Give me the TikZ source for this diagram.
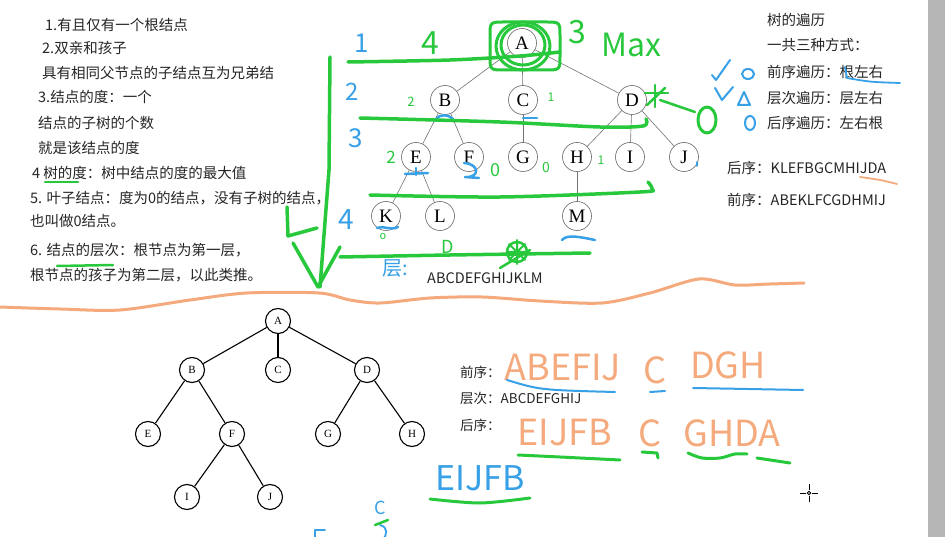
\documentclass[tikz,border=0pt]{standalone}
\usepackage{fontspec}
\setmainfont{Noto Sans CJK SC}
\newfontfamily\serifletters{Liberation Serif}
\usetikzlibrary{arrows.meta}
\definecolor{hgreen}{RGB}{40,200,60}
\definecolor{hblue}{RGB}{55,160,230}
\definecolor{horange}{RGB}{245,170,125}
\definecolor{bargray}{RGB}{182,182,182}
\begin{document}
\begin{tikzpicture}[x=1pt,y=-1pt,
 txt/.style={anchor=west, inner sep=0pt, font=\fontsize{14.5}{16}\selectfont, text=black!85},
 stxt/.style={anchor=west, inner sep=0pt, font=\fontsize{13.5}{15}\selectfont, text=black!85},
 tn/.style={circle, draw=black!60, line width=0.6pt, minimum size=29pt, inner sep=0pt, font=\serifletters\fontsize{19}{20}\selectfont, fill=white},
 bn/.style={circle, draw=black, line width=1.1pt, minimum size=25pt, inner sep=0pt, font=\serifletters\fontsize{11}{12}\selectfont, fill=white},
 te/.style={draw=black!55, line width=0.6pt},
 be/.style={draw=black, line width=1.1pt},
 gstroke/.style={draw=hgreen, line width=3.5pt, line cap=round, line join=round},
 bstroke/.style={draw=hblue, line width=2.5pt, line cap=round, line join=round},
 ostroke/.style={draw=horange, line width=2.5pt, line cap=round, line join=round},
 hand/.style={inner sep=0pt, anchor=center},
]
\useasboundingbox (0,0) rectangle (945,537);
\fill[white] (0,0) rectangle (945,537);
\fill[bargray] (928,0) rectangle (945,537);

% ---------- left text ----------
\node[txt] (t1) at (45,25) {1.有且仅有一个根结点};
\node[txt] (t2) at (42,48) {2.双亲和孩子};
\node[txt] (t3) at (42,73) {具有相同父节点的子结点互为兄弟结};
\node[txt] (t4) at (38,97) {3.结点的度：一个};
\node[txt] (t5) at (38,123) {结点的子树的个数};
\node[txt] (t6) at (38,148) {就是该结点的度};
\node[txt] (t7) at (32,173) {4 树的度：树中结点的度的最大值};
\node[txt] (t8) at (30,198) {5. 叶子结点：度为0的结点，没有子树的结点，};
\node[txt] (t9) at (30,221) {也叫做0结点。};
\node[txt] (t10) at (30,250) {6. 结点的层次：根节点为第一层，};
\node[txt] (t11) at (30,275) {根节点的孩子为第二层，以此类推。};

% ---------- right text ----------
\node[txt] (r1) at (767,20) {树的遍历};
\node[txt] (r2) at (767,45) {一共三种方式：};
\node[txt] (r3) at (767,72) {前序遍历：根左右};
\node[txt] (r4) at (767,98) {层次遍历：层左右};
\node[txt] (r5) at (767,123) {后序遍历：左右根};
\node[txt] (r6) at (727,168) {后序：KLEFBGCMHIJDA};
\node[txt] (r7) at (727,200) {前序：ABEKLFCGDHMIJ};
\node[txt] (lv) at (427,278) {ABCDEFGHIJKLM};

% ---------- top tree ----------
\node[tn] (A) at (522,43) {A};
\node[tn] (B) at (445,100) {B};
\node[tn] (C) at (523,100) {C};
\node[tn] (D) at (632,100) {D};
\node[tn] (E) at (416,157) {E};
\node[tn] (F) at (469,157) {F};
\node[tn] (G) at (523,157) {G};
\node[tn] (H) at (577,157) {H};
\node[tn] (I) at (630,157) {I};
\node[tn] (J) at (684,157) {J};
\node[tn] (K) at (386,216) {K};
\node[tn] (L) at (440,216) {L};
\node[tn] (M) at (577,216) {M};
\foreach \a/\b in {A/B,A/C,A/D,B/E,B/F,C/G,D/H,D/I,D/J,E/K,E/L,H/M}
  \path[te] (\a) -- (\b);

% ---------- bottom tree ----------
\node[bn] (bA) at (278,321) {A};
\node[bn] (bB) at (192,370) {B};
\node[bn] (bC) at (278,370) {C};
\node[bn] (bD) at (367,370) {D};
\node[bn] (bE) at (148,434) {E};
\node[bn] (bF) at (232,434) {F};
\node[bn] (bG) at (328,434) {G};
\node[bn] (bH) at (412,434) {H};
\node[bn] (bI) at (187,497) {I};
\node[bn] (bJ) at (270,497) {J};
\foreach \a/\b in {bA/bB,bA/bC,bA/bD,bB/bE,bB/bF,bD/bG,bD/bH,bF/bI,bF/bJ}
  \path[be] (\a) -- (\b);

% ---------- bottom text ----------
\node[stxt] (p1) at (460,372) {前序：};
\node[stxt] (p2) at (460,398) {层次：ABCDEFGHIJ};
\node[stxt] (p3) at (460,425) {后序：};

% ---------- orange handwriting ----------
\draw[ostroke, line width=3pt] plot[smooth] coordinates {(0,307) (60,309) (120,310) (190,300) (247,293) (319,293) (350,300) (380,303) (430,298) (482,297) (540,301) (602,303) (650,293) (699,279) (735,285) (770,284) (804,283)};
\draw[ostroke, line width=1.8pt] plot[smooth] coordinates {(860,177) (880,180) (897,184)};
\node[hand, text=horange, font=\fontsize{36}{36}\selectfont] (o1) at (563,368) {ABEFIJ};
\node[hand, text=horange, font=\fontsize{36}{36}\selectfont] (o2) at (655,370) {C};
\node[hand, text=horange, font=\fontsize{36}{36}\selectfont] (o3) at (728,365) {DGH};
\node[hand, text=horange, font=\fontsize{36}{36}\selectfont] (o4) at (565,433) {EIJFB};
\node[hand, text=horange, font=\fontsize{36}{36}\selectfont] (o5) at (650,433) {C};
\node[hand, text=horange, font=\fontsize{36}{36}\selectfont] (o6) at (732,433) {GHDA};

% ---------- blue handwriting ----------
\node[hand, text=hblue, font=\fontsize{26}{26}\selectfont] (n1) at (362,43) {1};
\node[hand, text=hblue, font=\fontsize{24}{24}\selectfont] (n2) at (352,92) {2};
\node[hand, text=hblue, font=\fontsize{26}{26}\selectfont] (n3) at (356,138) {3};
\node[hand, text=hblue, font=\fontsize{28}{28}\selectfont] (n4) at (346,220) {4};
\node[hand, text=hblue, font=\fontsize{20}{20}\selectfont] (n5) at (395,268) {层:};
\node[hand, text=hblue, font=\fontsize{34}{34}\selectfont] (n6) at (480,478) {EIJFB};
\node[hand, text=hblue, font=\fontsize{18}{18}\selectfont] (n7) at (380,508) {C};
\draw[bstroke] (436,119) .. controls (440,114) and (448,114) .. (453,119);
\draw[bstroke] (523,118) -- (537,118);
\draw[bstroke] (405,174) -- (428,173);
\draw[bstroke] (416,168) -- (416,175);
\draw[bstroke] (464,163) .. controls (480,164) and (480,178) .. (465,177) -- (479,178);
\draw[bstroke] (377,228) .. controls (383,225) and (390,231) .. (398,227);
\draw[bstroke] (562,240) .. controls (567,234) and (580,237) .. (595,240);
\draw[bstroke, line width=1.5pt] (697,162) -- (697,166);
\draw[bstroke, line width=2pt] (712,75) -- (716,80) -- (730,60);
\draw[bstroke, line width=2pt] (715,88) -- (722,100) -- (733,87);
\draw[bstroke, line width=2pt] (748,74) ellipse (6 and 5);
\draw[bstroke, line width=2pt] (738,105) -- (744,92) -- (750,105) -- cycle;
\draw[bstroke, line width=2pt] (750,123) ellipse (5 and 7);
\draw[bstroke, line width=1.8pt] (845,67) -- (847,78) .. controls (870,82) .. (900,83);
\draw[bstroke, line width=2pt] (507,380) .. controls (540,390) .. (615,392);
\draw[bstroke, line width=2pt] (650,392) -- (665,391);
\draw[bstroke, line width=2pt] (693,388) -- (803,390);
\draw[bstroke, line width=1.8pt] (380,525) .. controls (388,527) and (388,535) .. (382,540);
\draw[bstroke, line width=1.8pt] (315,540) -- (315,530) -- (325,530);

% ---------- green handwriting ----------
\draw[gstroke] plot[smooth] coordinates {(348,62) (450,60) (520,56) (560,52)};
\draw[gstroke] plot[smooth] coordinates {(360,118) (500,122) (600,127) (643,126) (646,119)};
\draw[gstroke] plot[smooth] coordinates {(370,195) (500,197) (640,192) (652,189) (648,182)};
\draw[gstroke] plot[smooth] coordinates {(340,257) (450,255) (590,253)};
\draw[gstroke] (330,57) -- (329,170) -- (320,287);
\draw[gstroke] (293,243) -- (318,287) -- (340,247);
\draw[gstroke] (287,207) -- (288,236) -- (317,228);
\draw[gstroke, line width=3pt] (490,36) .. controls (490,22) .. (505,22) -- (545,22) .. controls (560,22) .. (560,36) -- (560,56) .. controls (560,70) .. (545,70) -- (505,70) .. controls (490,70) .. (490,56) -- cycle;
\draw[gstroke, line width=3pt] (523,45) ellipse (22 and 20);
\draw[gstroke, line width=3pt] (523,46) ellipse (27 and 24);
\node[hand, text=hgreen, font=\fontsize{32}{32}\selectfont] (g1) at (430,43) {4};
\node[hand, text=hgreen, font=\fontsize{32}{32}\selectfont] (g2) at (577,32) {3};
\node[hand, text=hgreen, font=\fontsize{32}{32}\selectfont] (g3) at (631,45) {Max};
\node[hand, text=hgreen, font=\fontsize{13}{13}\selectfont] (g4) at (411,102) {2};
\node[hand, text=hgreen, font=\fontsize{12}{12}\selectfont] (g5) at (551,97) {1};
\node[hand, text=hgreen, font=\fontsize{17}{17}\selectfont] (g6) at (391,157) {2};
\node[hand, text=hgreen, font=\fontsize{18}{18}\selectfont] (g7) at (495,170) {0};
\node[hand, text=hgreen, font=\fontsize{14}{14}\selectfont] (g8) at (546,168) {0};
\node[hand, text=hgreen, font=\fontsize{12}{12}\selectfont] (g9) at (601,160) {1};
\node[hand, text=hgreen, font=\fontsize{18}{18}\selectfont] (g10) at (448,247) {D};
\node[hand, text=hgreen, font=\fontsize{11}{11}\selectfont] (g11) at (383,237) {o};
\draw[gstroke, line width=2.5pt] (645,93) -- (668,93);
\draw[gstroke, line width=2.5pt] (655,85) -- (655,107);
\draw[gstroke, line width=2.5pt] (647,105) -- (665,88);
\draw[gstroke, line width=2.5pt] (660,100) -- (695,112);
\draw[gstroke, line width=3pt] (707,120) ellipse (9 and 13);
\draw[gstroke, line width=2.5pt] (517,252) circle (10);
\draw[gstroke, line width=2pt] (517,240) -- (517,264) (507,252) -- (527,252) (509,244) -- (525,260) (509,260) -- (525,244);
\draw[gstroke, line width=2.5pt] (500,268) -- (530,250);
\draw[gstroke, line width=2.5pt] (45,182) -- (78,182);
\draw[gstroke, line width=2.5pt] (57,266) -- (113,265);
\draw[gstroke, line width=3pt] plot[smooth] coordinates {(518,455) (560,457) (620,460)};
\draw[gstroke, line width=3pt] (642,452) -- (657,453) -- (658,458);
\draw[gstroke, line width=3pt] plot[smooth] coordinates {(688,453) (702,458) (720,458) (735,454) (747,454)};
\draw[gstroke, line width=3pt] (757,458) -- (790,463);
\draw[gstroke, line width=3pt] plot[smooth] coordinates {(430,499) (480,503) (530,498)};
\draw[gstroke, line width=2.5pt] (375,525) -- (388,520);

% ---------- cursor ----------
\draw[black, line width=1pt] (800,493) -- (806,493) (812,493) -- (818,493) (809,484) -- (809,490) (809,496) -- (809,502);
\draw[black, line width=0.8pt] (809,493) circle (1.8);
\end{tikzpicture}
\end{document}
